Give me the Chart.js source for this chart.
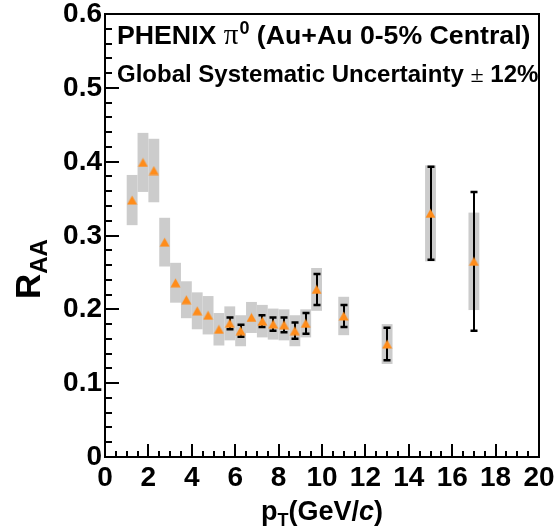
<!DOCTYPE html>
<html><head><meta charset="utf-8">
<script src="https://cdn.jsdelivr.net/npm/chart.js@4.4.1/dist/chart.umd.min.js"></script>
<style>html,body{margin:0;padding:0;background:#fff}#wrap{width:557px;height:531px;position:relative}</style>
</head><body><div id="wrap"><canvas id="c" width="557" height="531"></canvas></div>
<script>
// ---- data ----
const pT      = [1.25,1.75,2.25,2.75,3.25,3.75,4.25,4.75,5.25,5.75,6.25,6.75,7.25,7.75,8.25,8.75,9.25,9.75,11,13,15,17];
const raa     = [0.348,0.399,0.388,0.291,0.236,0.213,0.198,0.192,0.173,0.181,0.171,0.189,0.184,0.180,0.179,0.171,0.181,0.227,0.191,0.153,0.330,0.265];
const statErr = [0.003,0.003,0.003,0.003,0.003,0.003,0.003,0.004,0.004,0.008,0.008,0.004,0.008,0.009,0.010,0.011,0.014,0.021,0.015,0.022,0.063,0.094];
const sysErr  = [0.034,0.040,0.043,0.033,0.027,0.025,0.025,0.026,0.022,0.023,0.021,0.021,0.022,0.021,0.021,0.021,0.019,0.029,0.026,0.027,0.065,0.066];
const xTickValues = [0,2,4,6,8,10,12,14,16,18,20];
const xTickLabels = ['0','2','4','6','8','10','12','14','16','18','20'];
const yTickValues = [0,0.1,0.2,0.3,0.4,0.5,0.6];
const yTickLabels = ['0','0.1','0.2','0.3','0.4','0.5','0.6'];

// ---- styles ----
const SANS = '"Liberation Sans", Arial, Helvetica, sans-serif';
const SERIF = '"Liberation Serif", "Times New Roman", serif';
const BOX_HALF_W = 0.25;
const ORANGE = 'rgb(255,140,26)';
const GRAY = '#cccccc';

// triangle marker (bounding box centred on the point)
const tri = document.createElement('canvas');
tri.width = 11; tri.height = 10;
(function(){
  const t = tri.getContext('2d');
  t.fillStyle = ORANGE;
  t.beginPath();
  t.moveTo(0.5, 9.5); t.lineTo(10.5, 9.5); t.lineTo(5.5, 0.5); t.closePath();
  t.fill();
})();

const drawPlugin = {
  id: 'phenix',
  beforeDatasetsDraw(chart) {
    const ctx = chart.ctx, xs = chart.scales.x, ys = chart.scales.y;
    ctx.save();
    // systematic boxes
    ctx.fillStyle = GRAY;
    pT.forEach((x, i) => {
      const x0 = xs.getPixelForValue(x - BOX_HALF_W), x1 = xs.getPixelForValue(x + BOX_HALF_W);
      const y0 = ys.getPixelForValue(raa[i] + sysErr[i]), y1 = ys.getPixelForValue(raa[i] - sysErr[i]);
      ctx.fillRect(x0, y0, x1 - x0, y1 - y0);
    });
    // statistical error bars
    ctx.strokeStyle = '#000';
    pT.forEach((x, i) => {
      const px = Math.round(xs.getPixelForValue(x));
      const yc = ys.getPixelForValue(raa[i]);
      const yt = ys.getPixelForValue(raa[i] + statErr[i]);
      const yb = ys.getPixelForValue(raa[i] - statErr[i]);
      if (yc - yt < 5) return; // hidden behind marker
      ctx.lineWidth = 2;
      ctx.beginPath();
      ctx.moveTo(px, yt); ctx.lineTo(px, yb);
      ctx.stroke();
      ctx.lineWidth = 2.5;
      ctx.beginPath();
      ctx.moveTo(px - 3.5, yt); ctx.lineTo(px + 3.5, yt);
      ctx.moveTo(px - 3.5, yb); ctx.lineTo(px + 3.5, yb);
      ctx.stroke();
    });
    ctx.restore();
  },
  afterDraw(chart) {
    const ctx = chart.ctx, xs = chart.scales.x, ys = chart.scales.y, a = chart.chartArea;
    ctx.save();
    ctx.strokeStyle = '#000';
    ctx.fillStyle = '#000';
    ctx.lineWidth = 2;
    // frame
    ctx.strokeRect(a.left, a.top, a.right - a.left, a.bottom - a.top);
    // ticks
    ctx.beginPath();
    for (let k = 0; k <= 30; k++) {
      const v = k * 0.02;
      const py = Math.round(ys.getPixelForValue(v));
      const len = (k % 5 === 0) ? 14 : 7;
      ctx.moveTo(a.left, py); ctx.lineTo(a.left + len, py);
    }
    for (let k = 0; k <= 40; k++) {
      const v = k * 0.5;
      const px = Math.round(xs.getPixelForValue(v));
      const len = (k % 4 === 0) ? 13 : 6;
      ctx.moveTo(px, a.bottom); ctx.lineTo(px, a.bottom - len);
    }
    ctx.stroke();
    // tick labels
    ctx.font = 'bold 28px ' + SANS;
    ctx.textBaseline = 'alphabetic';
    ctx.textAlign = 'right';
    yTickValues.forEach((v, i) => {
      ctx.fillText(yTickLabels[i], 102, ys.getPixelForValue(v) + 8);
    });
    ctx.textAlign = 'center';
    xTickValues.forEach((v, i) => {
      ctx.fillText(xTickLabels[i], xs.getPixelForValue(v), a.bottom + 29);
    });
    ctx.textAlign = 'left';
    // y title R_AA (rotated)
    ctx.save();
    ctx.translate(40, 299);
    ctx.rotate(-Math.PI / 2);
    ctx.font = 'bold 35px ' + SANS;
    ctx.fillText('R', 0, 0);
    const wR = ctx.measureText('R').width;
    ctx.font = 'bold 24px ' + SANS;
    ctx.fillText('AA', wR, 7);
    ctx.restore();
    // x title p_T(GeV/c)
    let x = 261; const yb = 520;
    ctx.font = 'bold 27px ' + SANS;
    ctx.fillText('p', x, yb); x += ctx.measureText('p').width;
    ctx.font = 'bold 18px ' + SANS;
    ctx.fillText('T', x, yb + 6); x += ctx.measureText('T').width;
    ctx.font = 'bold 27px ' + SANS;
    ctx.fillText('(GeV/', x, yb); x += ctx.measureText('(GeV/').width;
    ctx.font = 'italic bold 27px ' + SANS;
    ctx.fillText('c', x, yb); x += ctx.measureText('c').width;
    ctx.font = 'bold 27px ' + SANS;
    ctx.fillText(')', x, yb);
    // header text line 1
    x = 117; let yl = 44;
    ctx.font = 'bold 26.7px ' + SANS;
    ctx.fillText('PHENIX ', x, yl); x += ctx.measureText('PHENIX ').width;
    ctx.font = '29px ' + SERIF;
    ctx.fillText('\u03c0', x, yl); x += ctx.measureText('\u03c0').width + 1;
    ctx.font = 'bold 18px ' + SANS;
    ctx.fillText('0', x, yl - 10); x += ctx.measureText('0').width;
    ctx.font = 'bold 26.7px ' + SANS;
    ctx.fillText(' (Au+Au 0-5% Central)', x, yl);
    // header text line 2
    x = 117; yl = 82;
    ctx.font = 'bold 24px ' + SANS;
    ctx.fillText('Global Systematic Uncertainty ', x, yl); x += ctx.measureText('Global Systematic Uncertainty ').width;
    ctx.font = '24px ' + SERIF;
    ctx.fillText('\u00b1', x, yl); x += ctx.measureText('\u00b1').width;
    ctx.font = 'bold 24px ' + SANS;
    ctx.fillText(' 12%', x, yl);
    ctx.restore();
  }
};

new Chart(document.getElementById('c').getContext('2d'), {
  type: 'scatter',
  data: {
    datasets: [{
      data: pT.map((x, i) => ({ x: x, y: raa[i] })),
      pointStyle: tri,
      pointRadius: 6,
      pointHoverRadius: 6,
      showLine: false
    }]
  },
  options: {
    responsive: false,
    animation: false,
    devicePixelRatio: 1,
    layout: { padding: { left: 0, right: 18, top: 14, bottom: 0 } },
    plugins: { legend: { display: false }, tooltip: { enabled: false }, title: { display: false } },
    scales: {
      x: { type: 'linear', min: 0, max: 20, ticks: { display: false }, grid: { display: false }, border: { display: false },
           afterFit: s => { s.height = 74; } },
      y: { type: 'linear', min: 0, max: 0.6, ticks: { display: false }, grid: { display: false }, border: { display: false },
           afterFit: s => { s.width = 105; } }
    }
  },
  plugins: [drawPlugin]
});
</script>
</body></html>
